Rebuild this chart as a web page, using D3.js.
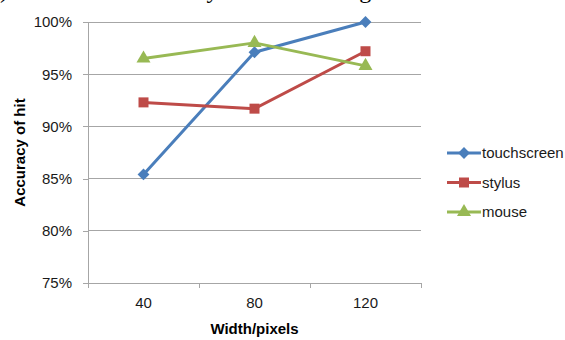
<!DOCTYPE html>
<html>
<head>
<meta charset="utf-8">
<script src="https://cdn.jsdelivr.net/npm/d3@7"></script>
<style>
  html, body { margin: 0; padding: 0; background: #fff; }
  svg { display: block; }
</style>
</head>
<body>
<svg id="chart" width="565" height="340"></svg>
<script>
// Target widths (pixels) on the x axis
const widths = ["40", "80", "120"];
// Hit accuracy (%) per input device
const touchscreen = [85.4, 97.1, 100.0];
const stylus = [92.3, 91.7, 97.2];
const mouse = [96.5, 98.0, 95.8];
// Y axis ticks (%)
const yTicks = [75, 80, 85, 90, 95, 100];
const seriesNames = ["touchscreen", "stylus", "mouse"];

// Diamonds are drawn as squares turned by 45 degrees
const series = [
  { name: seriesNames[0], values: touchscreen, color: "#4a7ebb", symbol: d3.symbolSquare, size: 70, rotate: 45 },
  { name: seriesNames[1], values: stylus, color: "#be4b48", symbol: d3.symbolSquare, size: 100, rotate: 0 },
  { name: seriesNames[2], values: mouse, color: "#98b954", symbol: d3.symbolTriangle, size: 85, rotate: 0 }
];

const svg = d3.select("#chart");
const font = "'Liberation Sans', Arial, sans-serif";
const plot = { left: 88, right: 421, top: 22, bottom: 283 };

// Caption above the chart, mostly cut off by the top edge
const cap = svg.append("text")
  .attr("y", -2)
  .attr("font-family", "'Liberation Serif', 'Times New Roman', serif")
  .attr("font-size", 24)
  .attr("fill", "#000")
  .text("(b) Hit rate and accuracy for the clicking");
const paren = cap.node().getSubStringLength(0, 2);
cap.attr("x", 0 - paren);

const x = d3.scaleBand().domain(widths).range([plot.left, plot.right]);
const y = d3.scaleLinear().domain([75, 100]).range([plot.bottom, plot.top]);

// Horizontal gridlines
svg.append("g")
  .selectAll("line")
  .data(yTicks.slice(1))
  .join("line")
  .attr("x1", plot.left).attr("x2", plot.right)
  .attr("y1", d => y(d)).attr("y2", d => y(d))
  .attr("stroke", "#a6a6a6").attr("stroke-width", 1)
  .attr("shape-rendering", "crispEdges");

// Y axis
const yAxis = svg.append("g")
  .attr("transform", `translate(${plot.left},0)`)
  .call(d3.axisLeft(y).tickValues(yTicks).tickSize(5).tickPadding(11).tickFormat(d => d + "%"));
yAxis.select(".domain").attr("stroke", "#a6a6a6").attr("shape-rendering", "crispEdges");
yAxis.selectAll(".tick line").attr("stroke", "#a6a6a6").attr("shape-rendering", "crispEdges");
yAxis.selectAll("text").attr("font-family", font).attr("font-size", 15).attr("fill", "#1a1a1a");

// X axis with ticks on band boundaries
const xAxis = svg.append("g")
  .attr("transform", `translate(0,${plot.bottom})`)
  .call(d3.axisBottom(x).tickSize(0).tickPadding(14));
xAxis.select(".domain").attr("stroke", "#a6a6a6").attr("shape-rendering", "crispEdges");
xAxis.selectAll("text").attr("font-family", font).attr("font-size", 15).attr("fill", "#1a1a1a");
const bounds = widths.map(w => x(w)).concat([x(widths[widths.length - 1]) + x.bandwidth()]);
xAxis.selectAll(".bound")
  .data(bounds)
  .join("line")
  .attr("class", "bound")
  .attr("x1", d => d).attr("x2", d => d)
  .attr("y1", 0).attr("y2", 5)
  .attr("stroke", "#a6a6a6")
  .attr("shape-rendering", "crispEdges");

// Axis titles
svg.append("text")
  .attr("transform", `translate(25,${(plot.top + plot.bottom) / 2}) rotate(-90)`)
  .attr("text-anchor", "middle")
  .attr("font-family", font).attr("font-size", 15).attr("font-weight", "bold")
  .attr("fill", "#000")
  .text("Accuracy of hit");

svg.append("text")
  .attr("x", (plot.left + plot.right) / 2)
  .attr("y", 334)
  .attr("text-anchor", "middle")
  .attr("font-family", font).attr("font-size", 15).attr("font-weight", "bold")
  .attr("fill", "#000")
  .text("Width/pixels");

// Series lines and markers
const cx = w => x(w) + x.bandwidth() / 2;
const line = d3.line().x((d, i) => cx(widths[i])).y(d => y(d));

series.forEach(s => {
  const g = svg.append("g");
  g.append("path")
    .attr("d", line(s.values))
    .attr("fill", "none")
    .attr("stroke", s.color)
    .attr("stroke-width", 3)
    .attr("stroke-linejoin", "round");
  g.selectAll("path.m")
    .data(s.values)
    .join("path")
    .attr("class", "m")
    .attr("transform", (d, i) => `translate(${cx(widths[i])},${y(d)}) rotate(${s.rotate})`)
    .attr("d", d3.symbol().type(s.symbol).size(s.size))
    .attr("fill", s.color);
});

// Legend
const legend = svg.append("g").attr("transform", "translate(447,153)");
series.forEach((s, i) => {
  const g = legend.append("g").attr("transform", `translate(0,${i * 29.5})`);
  g.append("line")
    .attr("x1", 0).attr("x2", 34).attr("y1", 0).attr("y2", 0)
    .attr("stroke", s.color).attr("stroke-width", 3);
  g.append("path")
    .attr("transform", `translate(17,0) rotate(${s.rotate})`)
    .attr("d", d3.symbol().type(s.symbol).size(s.size))
    .attr("fill", s.color);
  g.append("text")
    .attr("x", 35).attr("y", 0).attr("dy", "0.35em")
    .attr("font-family", font).attr("font-size", 15)
    .attr("fill", "#1a1a1a")
    .text(s.name);
});
</script>
</body>
</html>
